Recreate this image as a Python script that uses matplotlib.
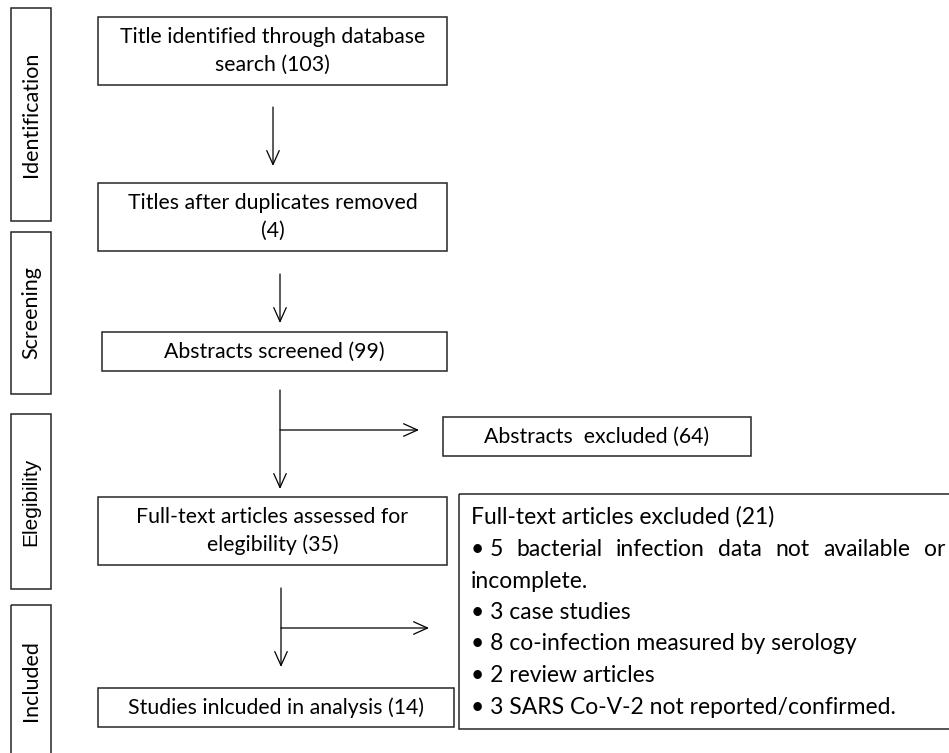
import matplotlib
matplotlib.use("Agg")
from matplotlib import pyplot as plt
from matplotlib.patches import Rectangle

# stage labels down the left side
stage_labels = ["Identification", "Screening", "Elegibility", "Included"]

# main flow boxes (text lines)
flow_texts = [
    ["Title identified through database", "search (103)"],
    ["Titles after duplicates removed", "(4)"],
    ["Abstracts screened (99)"],
    ["Full-text articles assessed for", "elegibility (35)"],
    ["Studies inlcuded in analysis (14)"],
]

abstracts_excluded = "Abstracts  excluded (64)"

fulltext_excluded_title = "Full-text articles excluded (21)"
fulltext_excluded_items = [
    "\u2022 5 bacterial infection data not available or",
    "incomplete.",
    "\u2022 3 case studies",
    "\u2022 8 co-infection measured by serology",
    "\u2022 2 review articles",
    "\u2022 3 SARS Co-V-2 not reported/confirmed.",
]

FONT = "Lato"
EDGE = "#262626"

W, H = 949, 753
fig = plt.figure(figsize=(W / 100, H / 100), dpi=100)
ax = fig.add_axes([0, 0, 1, 1])
ax.set_xlim(0, W)
ax.set_ylim(H, 0)
ax.axis("off")


def box(x0, y0, x1, y1):
    ax.add_patch(Rectangle((x0, y0), x1 - x0, y1 - y0, fill=False,
                           edgecolor=EDGE, linewidth=1.1, clip_on=False))


def arrow(x0, y0, x1, y1):
    ax.annotate("", xy=(x1, y1), xytext=(x0, y0),
                arrowprops=dict(arrowstyle="->,head_length=1.0,head_width=0.45",
                                color="black", lw=0.9, shrinkA=0, shrinkB=0))


# side stage boxes
side_boxes = [(11, 8, 51, 221), (11, 232, 51, 394), (11, 414, 51, 589), (11, 605, 51, 756)]
for (x0, y0, x1, y1), lab in zip(side_boxes, stage_labels):
    box(x0, y0, x1, y1)
    fam = "Liberation Sans" if lab == "Elegibility" else FONT
    ax.text((x0 + x1) / 2, (y0 + y1) / 2, lab, rotation=90, ha="center", va="center",
            fontsize=15.5 if lab != "Elegibility" else 15, family=fam)

# main boxes
flow_boxes = [(98, 17, 447, 85), (98, 183, 447, 251), (102, 332, 447, 371),
              (98, 497, 447, 565), (98, 688, 454, 727)]
for (x0, y0, x1, y1), lines in zip(flow_boxes, flow_texts):
    box(x0, y0, x1, y1)
    cy = (y0 + y1) / 2
    n = len(lines)
    for i, line in enumerate(lines):
        ly = cy + (i - (n - 1) / 2) * 28
        ax.text((x0 + x1) / 2, ly, line, ha="center", va="center",
                fontsize=15.3, family=FONT)

# arrows down the flow
arrow(273, 107, 273, 166)
arrow(280, 274, 280, 323)
arrow(280, 390, 280, 489)
arrow(280, 430, 419, 430)
arrow(281, 588, 281, 667)
arrow(281, 628, 429, 628)

# excluded boxes
box(443, 417, 751, 456)
ax.text(597, 436.5, abstracts_excluded, ha="center", va="center", fontsize=15.3, family=FONT)

box(459, 494, 952, 729)
tx = 471
ax.text(tx, 517, fulltext_excluded_title, ha="left", va="center", fontsize=16.5, family=FONT)

# first item is justified across the box width
fig.canvas.draw()
renderer = fig.canvas.get_renderer()
words = fulltext_excluded_items[0].split(" ")
words = [words[0] + " " + words[1]] + words[2:]
right = 945
widths = []
for w in words:
    t = ax.text(0, 0, w, fontsize=16.5, family=FONT)
    widths.append(t.get_window_extent(renderer).width)
    t.remove()
gap = (right - tx - sum(widths)) / (len(words) - 1)
x = tx
for w, wd in zip(words, widths):
    ax.text(x, 549, w, ha="left", va="center", fontsize=16.5, family=FONT)
    x += wd + gap

for i, item in enumerate(fulltext_excluded_items[1:]):
    ax.text(tx, 581 + i * 31.5, item, ha="left", va="center", fontsize=16.5, family=FONT)

fig.savefig("out.png", dpi=100)
